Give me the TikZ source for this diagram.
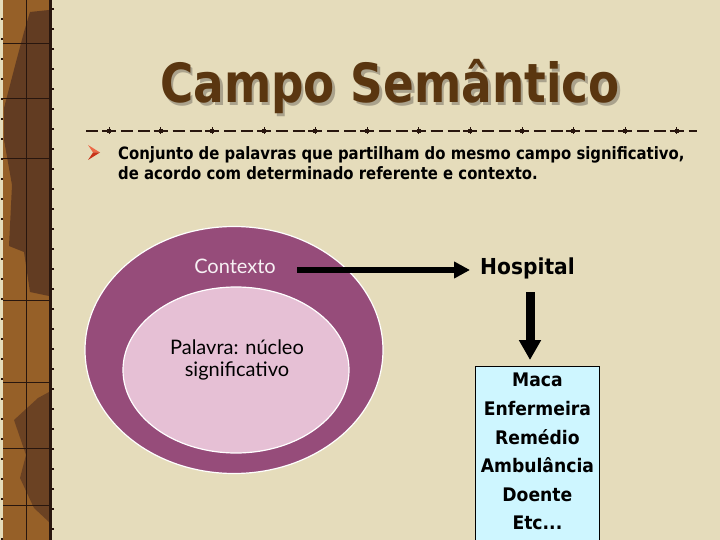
\documentclass[tikz,border=0pt]{standalone}
\usepackage{fontspec}
\newfontfamily\slidefont[FakeStretch=0.84]{DejaVu Sans}
\newfontfamily\bodyfont[FakeStretch=0.875]{DejaVu Sans}
\newfontfamily\boxfont[FakeStretch=0.92]{DejaVu Sans}
\newfontfamily\gillfont{Lato}
\usetikzlibrary{positioning, shapes.geometric, arrows.meta}

\definecolor{slidebg}{RGB}{229,220,187}
\definecolor{titlebrown}{RGB}{90,54,16}
\definecolor{titleshade}{RGB}{170,162,140}
\definecolor{bandbrown}{RGB}{150,96,40}
\definecolor{banddark}{RGB}{90,54,34}
\definecolor{bandline}{RGB}{40,22,14}
\definecolor{ctxplum}{RGB}{150,76,122}
\definecolor{coropink}{RGB}{230,192,213}
\definecolor{boxcyan}{RGB}{206,246,255}
\definecolor{bulletlight}{RGB}{236,104,70}
\definecolor{bulletdark}{RGB}{200,50,24}

\begin{document}
\begin{tikzpicture}[
    % GLOBAL SETTINGS
    x=1pt, y=-1pt,
    % STYLES
    titletext/.style={font=\slidefont\bfseries\fontsize{54}{60}\selectfont, inner sep=0pt, anchor=base},
    bullettext/.style={font=\bodyfont\bfseries\fontsize{17}{20}\selectfont, align=left, inner sep=0pt, anchor=north west},
    ring/.style={ellipse, draw=white, line width=1.2pt, inner sep=0pt},
    ringlabel/.style={font=\gillfont\fontsize{20}{22}\selectfont, align=center, inner sep=0pt},
    keyword/.style={font=\boxfont\bfseries\fontsize{22}{24}\selectfont, inner xsep=10pt, inner ysep=0pt},
    listbox/.style={rectangle, draw=black, line width=0.8pt, fill=boxcyan, anchor=north west, minimum width=124pt, minimum height=200pt},
    itemtext/.style={font=\boxfont\bfseries\fontsize{18.7}{28.6}\selectfont, align=center, inner sep=0pt, anchor=north},
    widearrow/.style={draw, line width=6pt, -{Triangle[length=16pt,width=16pt]}},
    tallarrow/.style={draw, line width=9pt, -{Triangle[length=20pt,width=21pt]}},
    rulesq/.style={fill=bandline, minimum size=4pt, inner sep=0pt}
]

    \useasboundingbox (0,0) rectangle (720,540);
    \clip (0,0) rectangle (720,540);

    \def\period{51.6}
    \def\ruley{131}

    % background and left band
    \fill[slidebg] (0,0) rectangle (720,540);
    \fill[bandbrown] (3,0) rectangle (49,540);
    \fill[banddark, opacity=0.85] (30,12) -- (49,10) -- (49,296) -- (30,292) -- (24,252) -- (9,246)
        -- (12,185) -- (4,140) -- (4,108) -- (16,62) -- (24,32) -- cycle;
    \fill[banddark, opacity=0.7] (49,392) -- (38,398) -- (14,420) -- (26,455) -- (20,478) -- (34,508) -- (49,522) -- cycle;
    \draw[bandline, line width=0.7pt] (26,0) -- (26,540);
    \foreach \hy in {43, 98, 158, 300, 382, 448, 505} {
        \draw[bandline, line width=0.7pt] (3,\hy) -- (49,\hy);
    }
    \fill[bandline] (49,0) rectangle (51.5,540);
    \foreach \dy in {8, 28, ..., 540} {
        \fill[bandline] (52,\dy) rectangle (53.5,\dy+2);
        \fill[bandline] (1,\dy+10) rectangle (2.5,\dy+12);
    }

    % title
    \node[titletext, text=titleshade] (titleshadow) at (392.5,105.5) {Campo Semântico};
    \node[titletext, text=titlebrown] (title) at (390,103) {Campo Semântico};

    % dotted rule under the title
    \draw[bandline, line width=1.3pt, dash pattern=on 14pt off 5pt on 12pt off 5pt on 12pt off 3.6pt, dash phase=34.6pt]
        (85,\ruley) -- (697,\ruley);
    \foreach \k in {0,...,11} {
        \node[rulesq] (sq\k) at (109+\k*\period,\ruley) {};
        \draw[bandline, line width=0.6pt] ([yshift=3.5pt]sq\k.center) -- ([yshift=-3.5pt]sq\k.center);
    }

    % bullet
    \fill[bulletlight] (88,145) -- (100,152.5) -- (93,152.5) -- cycle;
    \fill[bulletdark] (93,152.5) -- (100,152.5) -- (88,160) -- cycle;
    \node[bullettext] (defn) at (118,146)
        {Conjunto de palavras que partilham do mesmo campo significativo,\\de acordo com determinado referente e contexto.};

    % context rings
    \node[ring, fill=ctxplum, minimum width=298pt, minimum height=247pt] (outer) at (234,350) {};
    \node[ring, fill=coropink, minimum width=226pt, minimum height=166pt] (inner) at (236,370) {};
    \node[ringlabel, text=white!92!ctxplum] (ctx) at (235,266) {Contexto};
    \node[ringlabel, text=black] (core) at (237,360) {Palavra: núcleo\\significativo};

    % hospital chain
    \node[keyword, anchor=base west] (hosp) at (470,274) {Hospital};
    \coordinate (ctxout) at (297,270);
    \draw[widearrow] (ctxout) -- (ctxout -| hosp.west);

    \node[listbox] (box) at (475,366) {};
    \node[itemtext] (items) at ([yshift=-7pt]box.north)
        {Maca\\Enfermeira\\Remédio\\Ambulância\\Doente\\Etc...};
    \coordinate (drop) at (530,292);
    \draw[tallarrow, shorten >=6pt] (drop) -- (drop |- box.north);

\end{tikzpicture}
\end{document}
